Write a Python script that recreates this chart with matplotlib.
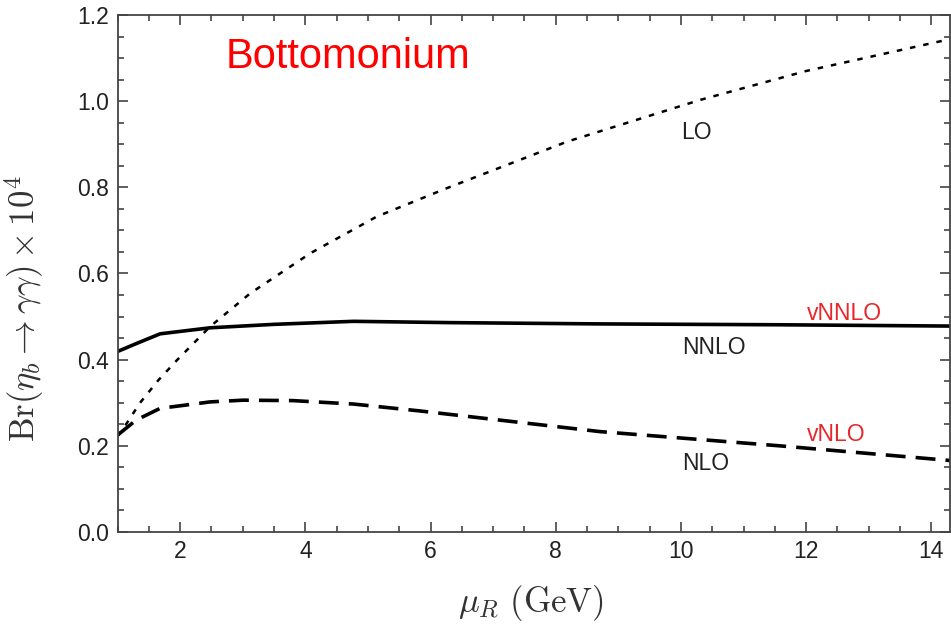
import matplotlib
matplotlib.use("Agg")
import matplotlib.pyplot as plt
from matplotlib.ticker import MultipleLocator

# valores (mu_R em GeV, Br x 10^4)
x_lo = [1.0, 1.15, 1.36, 1.65, 1.95, 2.48, 3.12, 4.08, 5.14, 6.26, 8.18, 10.31, 12.0, 14.3]
y_lo = [0.222, 0.253, 0.300, 0.352, 0.399, 0.477, 0.554, 0.647, 0.732, 0.798, 0.906, 1.003, 1.070, 1.144]

x_nnlo = [1.0, 1.31, 1.68, 2.48, 3.5, 4.77, 6.31, 8.71, 11.58, 14.3]
y_nnlo = [0.419, 0.438, 0.460, 0.474, 0.482, 0.489, 0.486, 0.483, 0.481, 0.478]

x_nlo = [1.0, 1.3, 1.68, 2.48, 3.01, 3.80, 4.77, 5.83, 8.71, 11.58, 14.3]
y_nlo = [0.225, 0.260, 0.287, 0.302, 0.306, 0.305, 0.297, 0.281, 0.233, 0.200, 0.166]

# rótulos das curvas: (texto, x, y, cor)
rotulos = [
    ("LO", 10.25, 0.927, "#222222"),
    ("vNNLO", 12.62, 0.508, "#e8262b"),
    ("NNLO", 10.52, 0.428, "#222222"),
    ("vNLO", 12.48, 0.227, "#e8262b"),
    ("NLO", 10.40, 0.159, "#222222"),
]

plt.rcParams["mathtext.fontset"] = "cm"

fig = plt.figure(figsize=(9.51, 6.24), dpi=100)
ax = fig.add_axes([0.1236, 0.1474, 0.8755, 0.8286])

ax.plot(x_lo, y_lo, color="black", lw=1.8, linestyle=(0, (2.2, 3.2)))
ax.plot(x_nnlo, y_nnlo, color="black", lw=2.6, solid_joinstyle="round")
ax.plot(x_nlo, y_nlo, color="black", lw=2.6, linestyle=(0, (5.5, 2.8)))

for texto, xt, yt, cor in rotulos:
    ax.text(xt, yt, texto, color=cor, fontsize=16.5, family="Liberation Sans",
            ha="center", va="center")

ax.text(2.72, 1.103, "Bottomonium", color="#ff0000", fontsize=30,
        family="Liberation Sans", ha="left", va="center")

ax.set_xlim(1, 14.3)
ax.set_ylim(0, 1.2)
ax.xaxis.set_major_locator(MultipleLocator(2))
ax.xaxis.set_minor_locator(MultipleLocator(0.5))
ax.yaxis.set_major_locator(MultipleLocator(0.2))
ax.yaxis.set_minor_locator(MultipleLocator(0.05))
ax.xaxis.set_major_formatter(plt.FuncFormatter(lambda v, p: f"{v:.0f}"))
ax.yaxis.set_major_formatter(plt.FuncFormatter(lambda v, p: f"{v:.1f}"))

ax.tick_params(which="both", direction="in", top=True, right=True,
               color="#444444", width=1.2)
ax.tick_params(which="major", length=7.5, labelsize=16.5, labelcolor="#222222", pad=6)
ax.tick_params(which="minor", length=4.5)
for lbl in ax.get_xticklabels() + ax.get_yticklabels():
    lbl.set_family("Liberation Sans")
for sp in ax.spines.values():
    sp.set_color("#444444")
    sp.set_linewidth(1.3)

ax.set_xlabel(r"$\mu_R\ \mathrm{(GeV)}$", fontsize=25, color="#333333")
ax.set_ylabel(r"$\mathrm{Br}(\eta_b \to \gamma\gamma) \times 10^4$", fontsize=25, color="#333333")
ax.xaxis.set_label_coords(0.497, -0.098)
ax.yaxis.set_label_coords(-0.086, 0.433)

fig.savefig("out.png", dpi=100)
